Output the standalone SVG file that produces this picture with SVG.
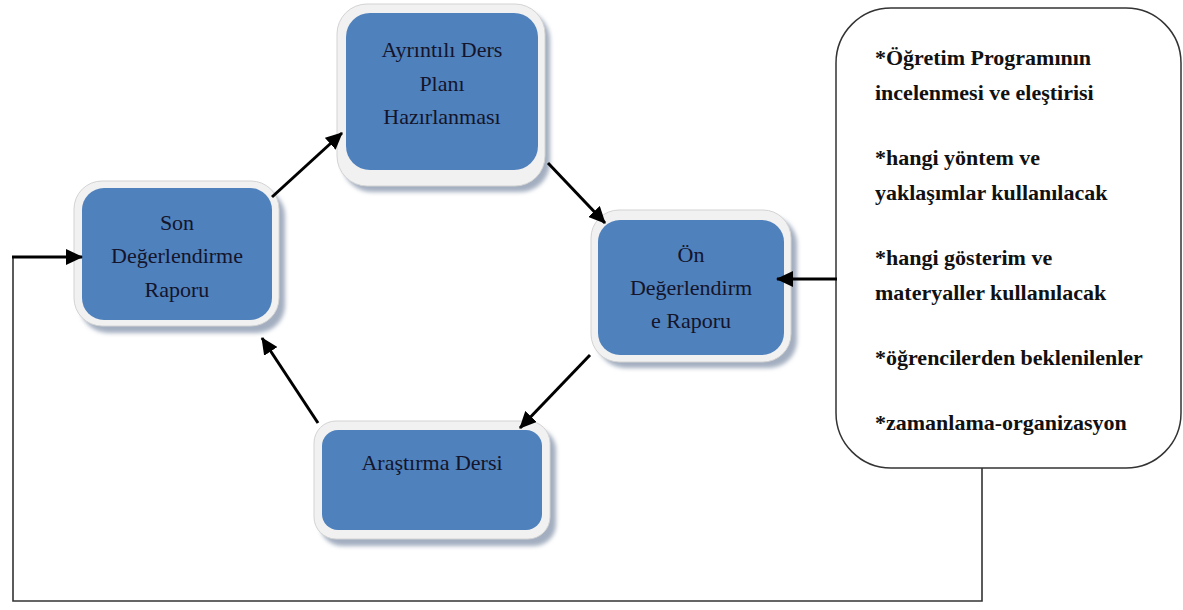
<svg xmlns="http://www.w3.org/2000/svg" width="1183" height="610" viewBox="0 0 1183 610">
<style>
.shadow{fill:#a3aec0;filter:url(#blur)}
.frame{fill:#f1f1f1;stroke:#d3d3d3;stroke-width:1}
.blue{fill:#4f81bd}
.lbl{font-family:'Liberation Serif','Times New Roman',serif;font-size:22px;fill:#14142a;text-anchor:middle}
.note{font-family:'Liberation Serif','Times New Roman',serif;font-size:22px;font-weight:bold;fill:#111}
.conn{stroke:#000;stroke-width:3;fill:none}
.thin{stroke:#333;stroke-width:1.6;fill:none}
</style>
<defs>
<filter id="blur" x="-10%" y="-10%" width="120%" height="120%"><feGaussianBlur stdDeviation="2"/></filter>
<marker id="ah" markerUnits="userSpaceOnUse" markerWidth="18" markerHeight="16" refX="16" refY="8" orient="auto"><path d="M0,0 L17,8 L0,16 Z" fill="#000"/></marker>
</defs>

<g id="node-plan">
<rect class="shadow" x="342" y="10" width="208" height="182" rx="30"/>
<rect class="frame" x="337" y="4" width="208" height="182" rx="30"/>
<rect class="blue" x="346" y="13" width="192" height="157" rx="24"/>
<text class="lbl" x="442" y="57">Ayrıntılı Ders</text>
<text class="lbl" x="442" y="91">Planı</text>
<text class="lbl" x="442" y="124">Hazırlanması</text>
</g>

<g id="node-on">
<rect class="shadow" x="597" y="216" width="200" height="152" rx="28"/>
<rect class="frame" x="591" y="210" width="200" height="152" rx="28"/>
<rect class="blue" x="598" y="220" width="186" height="135" rx="22"/>
<text class="lbl" x="691" y="262">Ön</text>
<text class="lbl" x="691" y="295">Değerlendirm</text>
<text class="lbl" x="691" y="328">e Raporu</text>
</g>

<g id="node-son">
<rect class="shadow" x="80" y="188" width="205" height="145" rx="28"/>
<rect class="frame" x="74" y="181" width="205" height="145" rx="28"/>
<rect class="blue" x="82" y="188" width="190" height="132" rx="22"/>
<text class="lbl" x="177" y="230">Son</text>
<text class="lbl" x="177" y="263">Değerlendirme</text>
<text class="lbl" x="177" y="297">Raporu</text>
</g>

<g id="node-arastirma">
<rect class="shadow" x="320" y="428" width="236" height="118" rx="22"/>
<rect class="frame" x="314" y="421" width="236" height="118" rx="22"/>
<rect class="blue" x="322" y="430" width="220" height="100" rx="16"/>
<text class="lbl" x="432" y="470">Araştırma Dersi</text>
</g>

<g id="node-notes">
<rect x="836" y="8" width="345" height="460" rx="55" fill="#fff" stroke="#333" stroke-width="1.5"/>
<text class="note" x="875" y="65">*Öğretim Programının</text>
<text class="note" x="875" y="100">incelenmesi ve eleştirisi</text>
<text class="note" x="875" y="165">*hangi yöntem ve</text>
<text class="note" x="875" y="200">yaklaşımlar kullanılacak</text>
<text class="note" x="875" y="265">*hangi gösterim ve</text>
<text class="note" x="875" y="300">materyaller kullanılacak</text>
<text class="note" x="875" y="365">*öğrencilerden beklenilenler</text>
<text class="note" x="875" y="430">*zamanlama-organizasyon</text>
</g>

<g id="connectors">
<line class="conn" x1="272" y1="197" x2="342" y2="133" marker-end="url(#ah)"/>
<line class="conn" x1="548" y1="163" x2="605" y2="223" marker-end="url(#ah)"/>
<line class="conn" x1="590" y1="355" x2="520" y2="428" marker-end="url(#ah)"/>
<line class="conn" x1="318" y1="423" x2="262" y2="338" marker-end="url(#ah)"/>
<line class="conn" x1="837" y1="279" x2="777" y2="279" marker-end="url(#ah)"/>
<polyline class="thin" points="982,468 982,601 13,601 13,257 50,257"/>
<line class="conn" x1="12" y1="257" x2="82" y2="257" marker-end="url(#ah)"/>
</g>
</svg>
